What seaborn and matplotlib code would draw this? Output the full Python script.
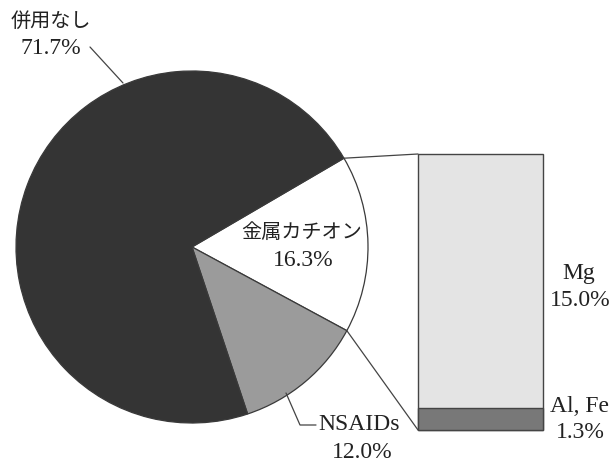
import numpy as np
import matplotlib
matplotlib.use("Agg")
import matplotlib.pyplot as plt
from matplotlib.patches import ConnectionPatch
import seaborn as sns
import pandas as pd

# ---- data ----
pie_labels = ["金属カチオン", "NSAIDs", "併用なし"]
pie_values = [16.3, 12.0, 71.7]
pie_colors = ["#ffffff", "#9b9b9b", "#343434"]

bar_labels = ["Mg", "Al, Fe"]
bar_values = [15.0, 1.3]
bar_colors = ["#e4e4e4", "#787878"]

sns.set_theme(style="white")
FONT = ["Liberation Serif", "Noto Sans CJK JP"]
plt.rcParams["font.family"] = FONT

W, H = 610, 462
fig = plt.figure(figsize=(W / 100, H / 100), dpi=100)
fig.patch.set_facecolor("white")
ax = fig.add_axes([0, 0, 1, 1])
ax.set_xlim(0, W)
ax.set_ylim(0, H)
ax.set_aspect("equal")
ax.axis("off")

def Y(y):
    return H - y

cx, cy, r = 192, Y(247), 176
wedges, _ = ax.pie(pie_values, colors=pie_colors, startangle=30.3,
                   counterclock=False, center=(cx, cy), radius=r,
                   wedgeprops=dict(edgecolor="#3a3a3a", linewidth=0.9))
ax.set_xlim(0, W)
ax.set_ylim(0, H)
ax.axis("off")

def edge(theta, rr=r):
    t = np.deg2rad(theta)
    return cx + rr * np.cos(t), cy + rr * np.sin(t)

# ---- bar of pie ----
bx0, bx1, by_top, by_bot = 418, 543, 154, 430
bax = fig.add_axes([bx0 / W, (H - by_bot) / H, (bx1 - bx0) / W, (by_bot - by_top) / H])
total = sum(bar_values)
df_tot = pd.DataFrame({"x": ["b"], "y": [total]})
df_bot = pd.DataFrame({"x": ["b"], "y": [bar_values[1]]})
sns.barplot(data=df_tot, x="x", y="y", color=bar_colors[0], width=1.0,
            edgecolor="#444444", linewidth=1.0, saturation=1, ax=bax)
sns.barplot(data=df_bot, x="x", y="y", color=bar_colors[1], width=1.0,
            edgecolor="#444444", linewidth=1.0, saturation=1, ax=bax)
for p in bax.patches:
    p.set_clip_on(False)
bax.set_xlim(-0.5, 0.5)
bax.set_ylim(0, total)
bax.axis("off")

# connector lines from metal-cation wedge to bar
w0 = wedges[0]
top_pt = edge(w0.theta2)
bot_pt = edge(w0.theta1)
for pA, pB in [(top_pt, (-0.5, total)), (bot_pt, (-0.5, 0))]:
    con = ConnectionPatch(xyA=pA, coordsA=ax.transData, xyB=pB, coordsB=bax.transData,
                          color="#444444", linewidth=0.9)
    fig.add_artist(con)

fs_jp = 14.5
fs = 17
tc = "#222222"

# 併用なし label
ax.text(51, Y(22), pie_labels[2], ha="center", va="center", fontsize=fs_jp, color=tc)
ax.text(51, Y(49), f"{pie_values[2]:.1f}%", ha="center", va="center", fontsize=fs, color=tc)
ax.plot([90, 123], [Y(47), Y(83)], color="#444444", lw=0.9)

# 金属カチオン label
ax.text(302, Y(233), pie_labels[0], ha="center", va="center", fontsize=fs_jp, color=tc)
ax.text(303, Y(260), f"{pie_values[0]:.1f}%", ha="center", va="center", fontsize=fs, color=tc)

# NSAIDs label
ax.plot([286, 300, 316], [Y(393), Y(425), Y(425)], color="#444444", lw=0.9)
ax.text(318, Y(425), pie_labels[1], ha="left", va="center", fontsize=fs, color=tc)
ax.text(362, Y(452), f"{pie_values[1]:.1f}%", ha="center", va="center", fontsize=fs, color=tc)

# bar labels
ax.text(579, Y(273), bar_labels[0], ha="center", va="center", fontsize=fs, color=tc)
ax.text(580, Y(300), f"{bar_values[0]:.1f}%", ha="center", va="center", fontsize=fs, color=tc)
ax.text(580, Y(407), bar_labels[1], ha="center", va="center", fontsize=fs, color=tc)
ax.text(580, Y(433), f"{bar_values[1]:.1f}%", ha="center", va="center", fontsize=fs, color=tc)

fig.savefig("out.png", dpi=100, facecolor="white")
